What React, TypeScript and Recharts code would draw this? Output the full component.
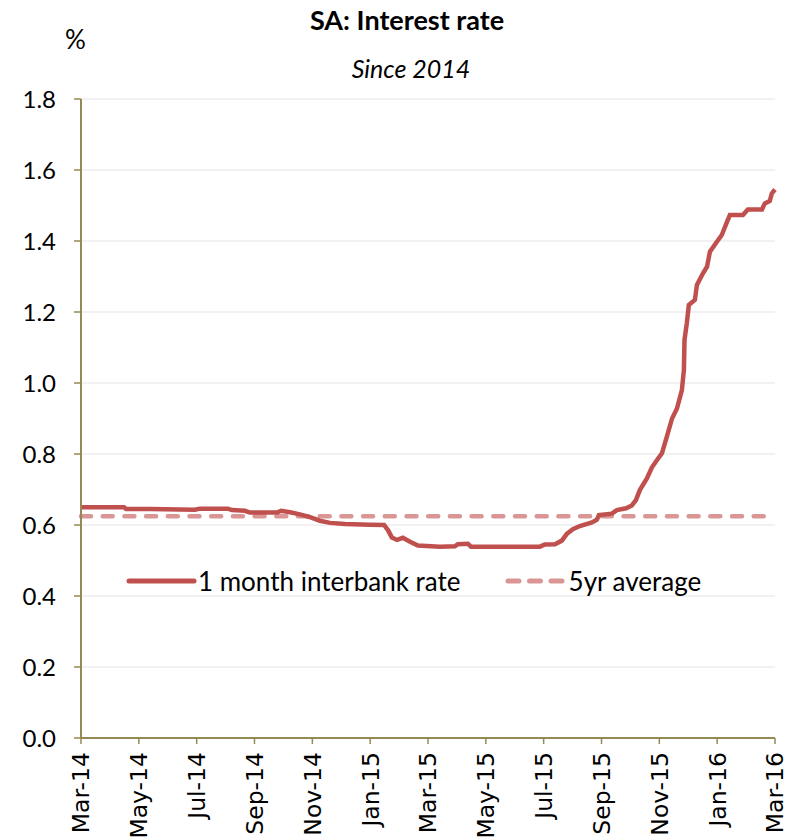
import React from "react";
import { LineChart, Line, XAxis, YAxis, CartesianGrid } from "recharts";

// months since Mar-14 (fractional)
const months = [
  0, 1.49, 1.56, 2.39, 3.94, 4.11, 5.08, 5.22, 5.67, 5.84, 6.78, 6.92, 7.23, 7.57, 7.92, 8.26,
  8.61, 9.13, 9.99, 10.48, 10.62, 10.75, 10.93, 11.13, 11.38, 11.65, 12.41, 12.93, 13.03, 13.38,
  13.49, 15.87, 16.04, 16.39, 16.63, 16.8, 17.01, 17.25, 17.67, 17.84, 17.91, 18.36, 18.53, 18.85,
  19.05, 19.19, 19.33, 19.57, 19.74, 19.92, 20.09, 20.26, 20.44, 20.61, 20.78, 20.85, 20.87, 20.95,
  21.02, 21.23, 21.3, 21.51, 21.65, 21.75, 21.99, 22.16, 22.34, 22.44, 22.89, 23.06, 23.55, 23.65,
  23.82, 23.89, 24,
];
const rate = [
  0.65, 0.65, 0.645, 0.645, 0.643, 0.646, 0.646, 0.642, 0.64, 0.635, 0.635, 0.64, 0.636, 0.63, 0.622,
  0.612, 0.606, 0.603, 0.601, 0.6, 0.585, 0.565, 0.558, 0.564, 0.553, 0.542, 0.539, 0.54, 0.546,
  0.547, 0.539, 0.539, 0.545, 0.546, 0.556, 0.575, 0.588, 0.597, 0.607, 0.615, 0.628, 0.632, 0.642,
  0.647, 0.655, 0.67, 0.699, 0.731, 0.762, 0.783, 0.802, 0.849, 0.9, 0.928, 0.98, 1.037, 1.121, 1.168,
  1.22, 1.234, 1.276, 1.309, 1.328, 1.37, 1.398, 1.417, 1.454, 1.473, 1.473, 1.489, 1.489, 1.506,
  1.513, 1.534, 1.545,
];
const avg5yr = 0.625;

const tickMonths = [0, 2, 4, 6, 8, 10, 12, 14, 16, 18, 20, 22, 24];
const tickLabels = [
  "Mar-14", "May-14", "Jul-14", "Sep-14", "Nov-14", "Jan-15", "Mar-15",
  "May-15", "Jul-15", "Sep-15", "Nov-15", "Jan-16", "Mar-16",
];
const yTicks = [0, 0.2, 0.4, 0.6, 0.8, 1.0, 1.2, 1.4, 1.6, 1.8];

const seriesNames = ["1 month interbank rate", "5yr average"];

const data = months.map((m, i) => ({ m, rate: rate[i], avg: avg5yr }));

const RED = "#C0504D";
const PINK = "#DA9694";
const AXIS = "#948A54";
const FONT = "Lato, 'Open Sans', sans-serif";

const XTick = (props: any) => {
  const { x, y, payload } = props;
  const idx = tickMonths.indexOf(payload.value);
  return (
    <text
      x={x}
      y={y + 6}
      transform={`rotate(-90, ${x}, ${y + 6})`}
      textAnchor="end"
      dy="0.36em"
      fontFamily="'DejaVu Sans', sans-serif"
      fontSize={23.5}
      fill="#000"
    >
      {idx >= 0 ? tickLabels[idx] : ""}
    </text>
  );
};

const ChartLegend = () => (
  <div
    style={{
      position: "absolute", left: 124, top: 568, height: 26, display: "flex", alignItems: "center",
      fontFamily: FONT, fontSize: 26, lineHeight: "26px", color: "#000", whiteSpace: "nowrap",
    }}
  >
    <svg width={74} height={10} style={{ display: "block" }}>
      <line x1={5} y1={5} x2={70} y2={5} stroke={RED} strokeWidth={5} strokeLinecap="round" />
    </svg>
    <span style={{ marginLeft: 0 }}>{seriesNames[0]}</span>
    <svg width={64} height={10} style={{ display: "block", marginLeft: 42 }}>
      <line x1={5} y1={5} x2={59} y2={5} stroke={PINK} strokeWidth={5} strokeDasharray="11 10.5" strokeLinecap="round" />
    </svg>
    <span style={{ marginLeft: 2 }}>{seriesNames[1]}</span>
  </div>
);

export default function App() {
  return (
    <div style={{ position: "absolute", left: 0, top: 0, width: 798, height: 838, background: "#fff" }}>
      <LineChart width={798} height={838} data={data} margin={{ top: 99, right: 23, left: 0, bottom: 0 }}>
        <CartesianGrid horizontal vertical={false} stroke="#EDEDED" strokeWidth={1.5} />
        <XAxis
          dataKey="m"
          type="number"
          domain={[0, 24]}
          ticks={tickMonths}
          interval={0}
          height={100}
          tickSize={6}
          tick={<XTick />}
          axisLine={{ stroke: AXIS, strokeWidth: 2 }}
          tickLine={{ stroke: AXIS, strokeWidth: 1.5 }}
        />
        <YAxis
          type="number"
          domain={[0, 1.8]}
          ticks={yTicks}
          interval={0}
          width={81}
          tickSize={7}
          tickMargin={18}
          tickFormatter={(v: number) => v.toFixed(1)}
          tick={{ fill: "#000", fontSize: 24, fontFamily: FONT }}
          axisLine={{ stroke: AXIS, strokeWidth: 2 }}
          tickLine={{ stroke: AXIS, strokeWidth: 1.5 }}
        />
        <Line
          type="linear"
          dataKey="avg"
          name={seriesNames[1]}
          stroke={PINK}
          strokeWidth={4.5}
          strokeDasharray="10 11.7"
          strokeLinecap="round"
          dot={false}
          isAnimationActive={false}
        />
        <Line
          type="linear"
          dataKey="rate"
          name={seriesNames[0]}
          stroke={RED}
          strokeWidth={4.5}
          dot={false}
          isAnimationActive={false}
        />
      </LineChart>
      <div
        style={{
          position: "absolute", left: 0, width: 814, top: 6, textAlign: "center", lineHeight: "27px",
          fontFamily: FONT, fontWeight: 700, fontSize: 27, color: "#000", whiteSpace: "nowrap",
        }}
      >
        SA: Interest rate
      </div>
      <div
        style={{
          position: "absolute", left: 0, width: 822, top: 56, textAlign: "center", lineHeight: "25px",
          fontFamily: FONT, fontStyle: "italic", fontSize: 25, color: "#000", whiteSpace: "nowrap",
        }}
      >
        Since 2014
      </div>
      <div
        style={{
          position: "absolute", left: 65, top: 26, lineHeight: "26px",
          fontFamily: FONT, fontSize: 26, color: "#000",
        }}
      >
        %
      </div>
      <ChartLegend />
    </div>
  );
}
